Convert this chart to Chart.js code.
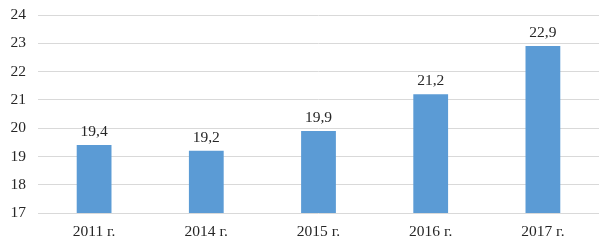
<!DOCTYPE html>
<html><head><meta charset="utf-8">
<script src="https://cdn.jsdelivr.net/npm/chart.js@4"></script>
<style>html,body{margin:0;padding:0;background:#fff}#wrap{width:615px;height:250px}</style>
</head><body><div id="wrap"><canvas id="c"></canvas></div>
<script>
const categories = ["2011 г.", "2014 г.", "2015 г.", "2016 г.", "2017 г."];
const values = [19.4, 19.2, 19.9, 21.2, 22.9];
const yMin = 17, yMax = 24, yStep = 1;

const FONT = "'Liberation Serif', 'Times New Roman', serif";
const TEXT = "#262626";
const labelPlugin = {
  id: 'barLabels',
  afterDatasetsDraw(chart) {
    const ctx = chart.ctx;
    const meta = chart.getDatasetMeta(0);
    ctx.save();
    ctx.font = "15.5px " + FONT;
    ctx.fillStyle = TEXT;
    ctx.textAlign = "center";
    ctx.textBaseline = "middle";
    meta.data.forEach((bar, i) => {
      ctx.fillText(values[i].toFixed(1).replace('.', ','), bar.x, bar.y - 13);
    });
    ctx.restore();
  }
};

new Chart(document.getElementById('c'), {
  type: 'bar',
  data: { labels: categories, datasets: [{ data: values, backgroundColor: '#5B9BD5', categoryPercentage: 1, barPercentage: 0.31 }] },
  options: {
    responsive: true, maintainAspectRatio: false, animation: false,
    layout: { padding: { top: 15, right: 16, left: 0, bottom: 0 } },
    plugins: { legend: { display: false }, tooltip: { enabled: false } },
    scales: {
      x: {
        grid: { display: false, drawTicks: false },
        border: { display: false },
        ticks: { font: { family: FONT, size: 15.5 }, color: TEXT, padding: 10 },
        afterFit(s) { s.height = 37; s.paddingLeft = 0; s.paddingRight = 0; }
      },
      y: {
        min: yMin, max: yMax,
        grid: { color: '#d9d9d9', drawTicks: false },
        border: { display: false },
        ticks: { stepSize: yStep, font: { family: FONT, size: 15.5 }, color: TEXT, padding: 12 },
        afterFit(s) { s.width = 38; s.paddingTop = 0; s.paddingBottom = 0; }
      }
    }
  },
  plugins: [labelPlugin]
});
</script></body></html>
